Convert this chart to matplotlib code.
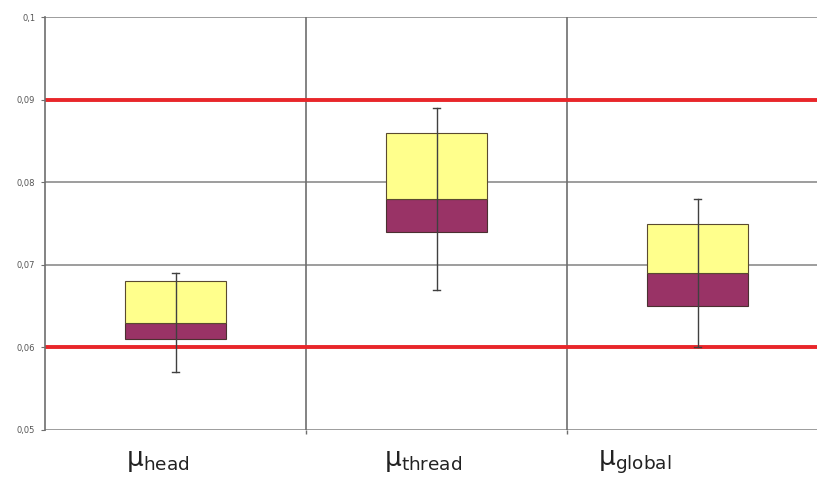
import matplotlib.pyplot as plt
import numpy as np

# Data
categories = ['head', 'thread', 'global']
box_low = [0.061, 0.074, 0.065]
box_mid = [0.063, 0.078, 0.069]
box_high = [0.068, 0.086, 0.075]
whisker_low = [0.057, 0.067, 0.060]
whisker_high = [0.069, 0.089, 0.078]
limit_lines = [0.06, 0.09]
y_ticks = [0.05, 0.06, 0.07, 0.08, 0.09, 0.1]
y_tick_labels = ['0,05', '0,06', '0,07', '0,08', '0,09', '0,1']
label_offsets = [0.31, 0.30, 0.12]  # label start inside each category

plt.rcParams['mathtext.fontset'] = 'custom'
plt.rcParams['mathtext.rm'] = 'Liberation Sans'
plt.rcParams['mathtext.it'] = 'Liberation Sans'

fig = plt.figure(figsize=(8.17, 4.84), dpi=100, facecolor='white')
# axes deliberately run past the right edge, as in the cropped original
ax = fig.add_axes([45 / 817, 54 / 484, 783 / 817, 413 / 484])

x = np.arange(len(categories)) + 0.5
width = 0.39

# grid lines
for yt in y_ticks:
    ax.axhline(yt, color='#8c8c8c', linewidth=1.2, zorder=1)
for xs in range(1, len(categories)):
    ax.axvline(xs, color='#6e6e6e', linewidth=1.2, zorder=1)

# limit lines
for yl in limit_lines:
    ax.axhline(yl, color='#e8262a', linewidth=2.8, zorder=2)

# boxes
ax.bar(x, np.array(box_mid) - np.array(box_low), width, bottom=box_low,
       color='#993366', edgecolor='#4a3030', linewidth=0.8, zorder=3)
ax.bar(x, np.array(box_high) - np.array(box_mid), width, bottom=box_mid,
       color='#ffff8c', edgecolor='#5a4a30', linewidth=0.8, zorder=3)

# whiskers
cap = 0.013
for xi, lo, hi in zip(x, whisker_low, whisker_high):
    ax.plot([xi, xi], [lo, hi], color='#404040', linewidth=1.0, zorder=4)
    ax.plot([xi - cap, xi + cap], [lo, lo], color='#404040', linewidth=1.0, zorder=4)
    ax.plot([xi - cap, xi + cap], [hi, hi], color='#404040', linewidth=1.0, zorder=4)

ax.set_xlim(0, len(categories))
ax.set_ylim(0.05, 0.1)
ax.set_yticks(y_ticks)
ax.set_yticklabels(y_tick_labels, fontsize=6, color='#555555')
ax.tick_params(axis='y', length=3, width=0.8, color='#6e6e6e', pad=4)
ax.set_xticks(range(1, len(categories)))
ax.set_xticklabels([])
ax.tick_params(axis='x', length=3, width=1.0, color='#6e6e6e')

for side in ['top', 'right']:
    ax.spines[side].set_visible(False)
ax.spines['bottom'].set_visible(False)
ax.spines['left'].set_color('#6e6e6e')
ax.spines['left'].set_linewidth(1.2)

# category labels
for i, name in enumerate(categories):
    ax.text(i + label_offsets[i], 0.0457, r'$\mathregular{μ_{' + name + '}}$',
            fontsize=19, color='#222222', ha='left', va='baseline')

plt.savefig('out.png', dpi=100, facecolor='white')
